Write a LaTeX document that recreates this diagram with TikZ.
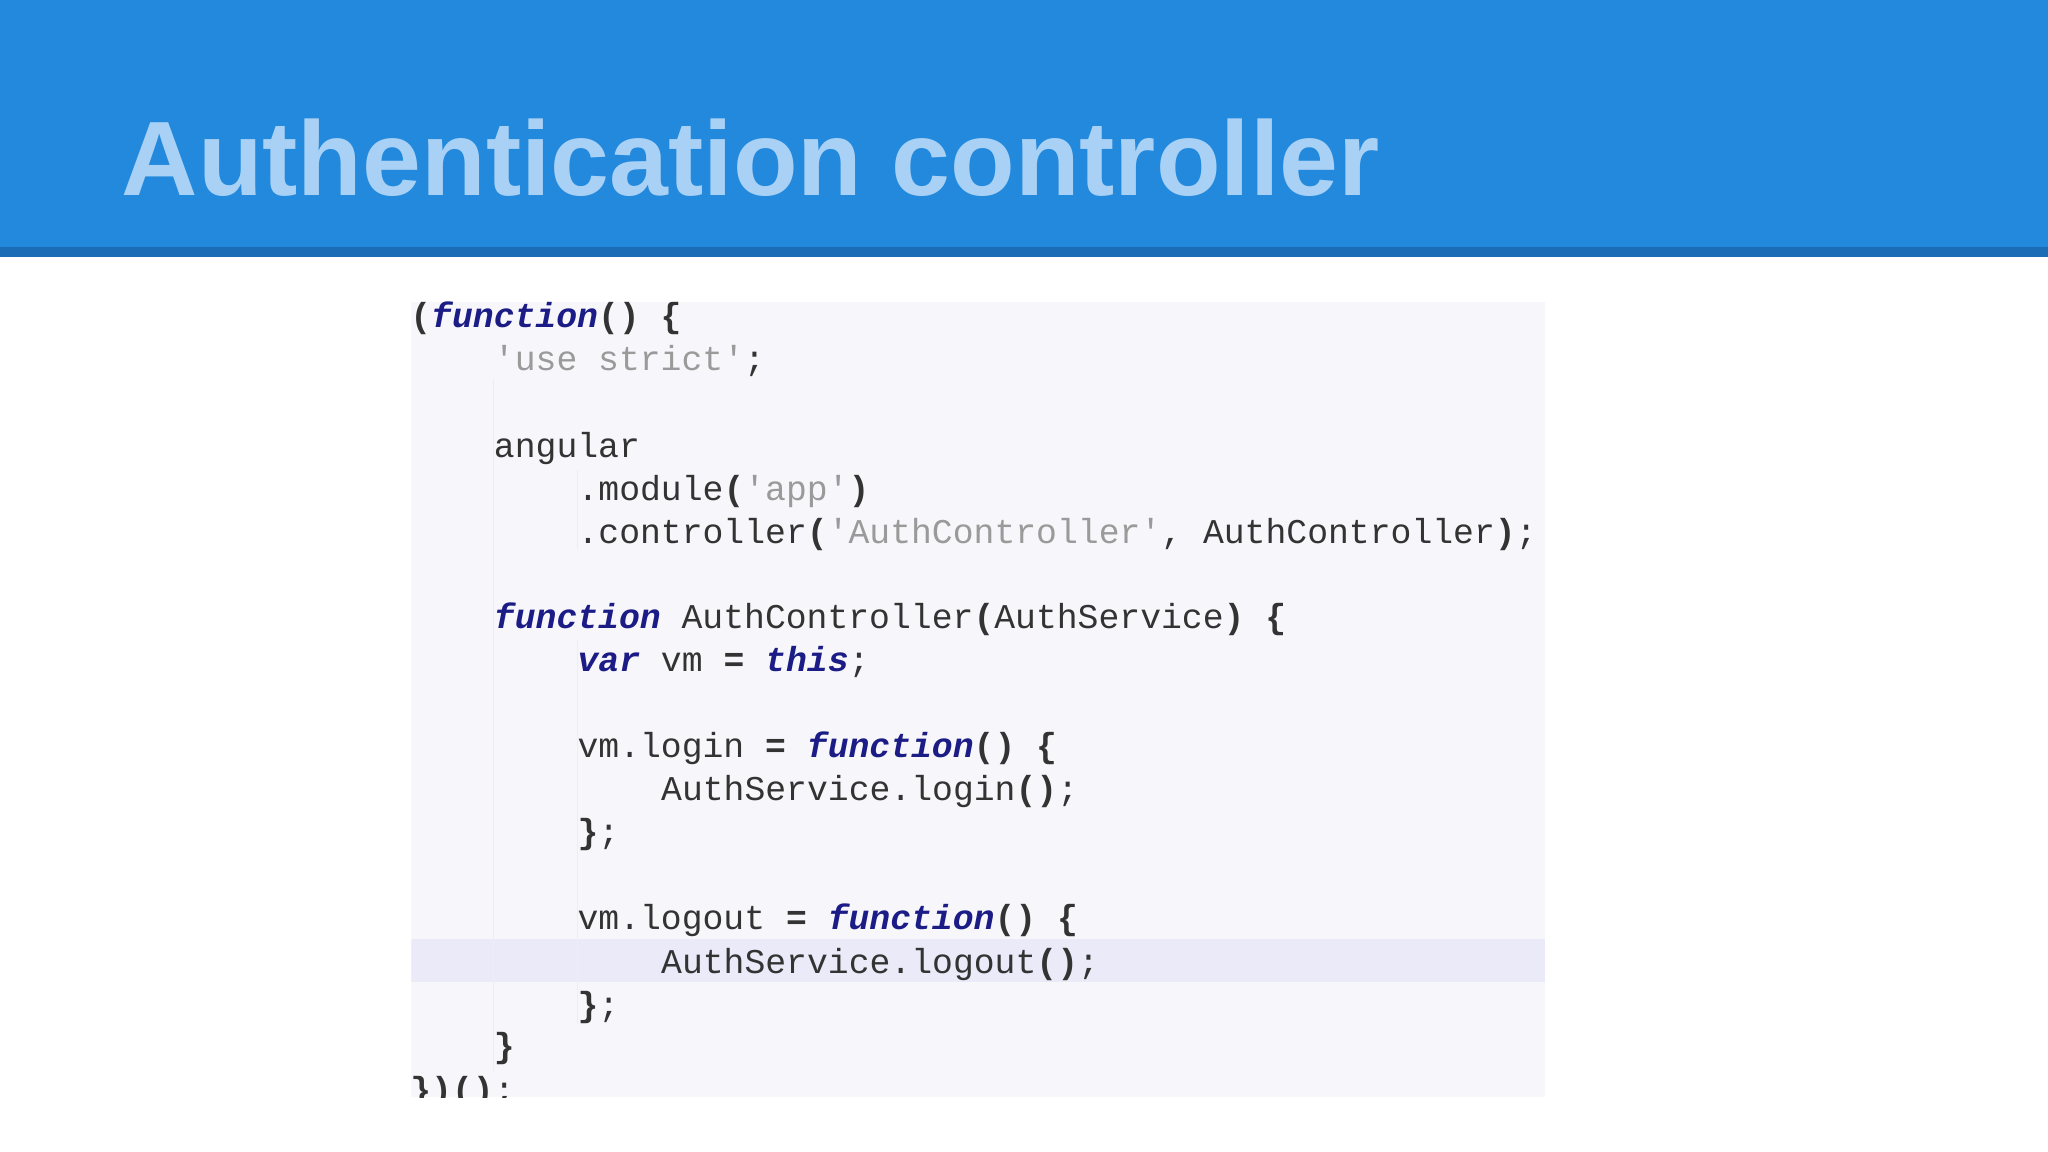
\documentclass[tikz,border=0pt]{standalone}
\usepackage{fontspec}
\setmainfont{Liberation Sans}
\setmonofont{Liberation Mono}
\definecolor{hdr}{HTML}{2289DC}
\definecolor{hdrline}{HTML}{1B6DB5}
\definecolor{ttl}{HTML}{A9D1F5}
\definecolor{codebg}{HTML}{F7F7FB}
\definecolor{hl}{HTML}{EAEAF8}
\definecolor{kwc}{HTML}{1C1C86}
\definecolor{strc}{HTML}{9A9A9A}
\definecolor{txt}{HTML}{333333}
\definecolor{guide}{HTML}{EDEDF2}
\newcommand{\kw}[1]{{\bfseries\itshape\color{kwc}#1}}
\newcommand{\st}[1]{{\color{strc}#1}}
\newcommand{\bp}[1]{{\bfseries #1}}
\begin{document}
\begin{tikzpicture}[x=1pt,y=-1pt,
  code/.style={anchor=base west,inner sep=0pt,font=\fontsize{26.6}{26.6}\selectfont\ttfamily,text=txt}]
\useasboundingbox (0,0) rectangle (1568,882);
\fill[white] (0,0) rectangle (1568,882);
\fill[hdr] (0,0) rectangle (1568,189);
\fill[hdrline] (0,189) rectangle (1568,197);
\node[anchor=base west,inner sep=0pt,text=ttl,font=\fontsize{81}{81}\selectfont\bfseries] (title) at (93,150) {Authentication controller};
\begin{scope}
\clip (315,231) rectangle (1183,840);
\fill[codebg] (315,231) rectangle (1183,840);
\fill[hl] (315,719) rectangle (1183,752);
\draw[guide,line width=1pt] (378,290) -- (378,820);
\draw[guide,line width=1pt] (442,360) -- (442,420);
\draw[guide,line width=1pt] (442,490) -- (442,785);
\def\cx#1{314+16*#1}
\node[code] (l1) at (314,251) {\bp{(}\kw{function}\bp{()}\ \bp{\{}};
\node[code] (l2) at (378,284) {\st{'use strict'};};
\node[code] (l4) at (378,350) {angular};
\node[code] (l5) at (442,383) {.module\bp{(}\st{'app'}\bp{)}};
\node[code] (l6) at (442,416) {.controller\bp{(}\st{'AuthController'},\ AuthController\bp{)};};
\node[code] (l8) at (378,481) {\kw{function}\ AuthController\bp{(}AuthService\bp{)}\ \bp{\{}};
\node[code] (l9) at (442,514) {\kw{var}\ vm\ \bp{=}\ \kw{this};};
\node[code] (l11) at (442,580) {vm.login\ \bp{=}\ \kw{function}\bp{()}\ \bp{\{}};
\node[code] (l12) at (506,613) {AuthService.login\bp{()};};
\node[code] (l13) at (442,646) {\bp{\}};};
\node[code] (l15) at (442,712) {vm.logout\ \bp{=}\ \kw{function}\bp{()}\ \bp{\{}};
\node[code] (l16) at (506,745) {AuthService.logout\bp{()};};
\node[code] (l17) at (442,778) {\bp{\}};};
\node[code] (l18) at (378,810) {\bp{\}}};
\node[code] (l19) at (314,843) {\bp{\})()};};
\end{scope}
\end{tikzpicture}
\end{document}
